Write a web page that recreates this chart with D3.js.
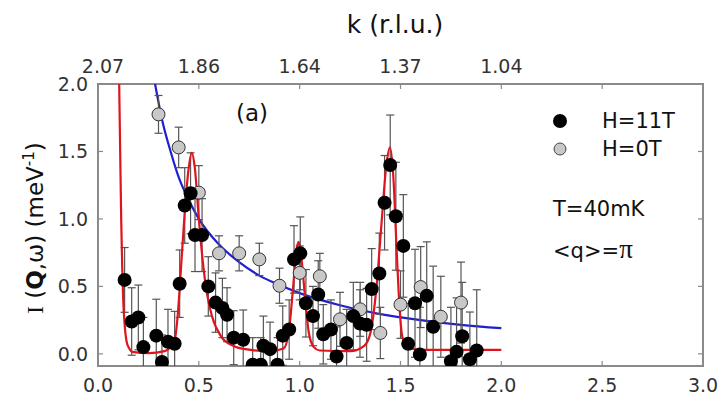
<!DOCTYPE html>
<html>
    <head>
        <title>I(Q,w) vs energy</title>
        <meta charset="UTF-8">
        <script src="https://cdnjs.cloudflare.com/ajax/libs/d3/7.9.0/d3.min.js"></script>
        <style>
            html, body {
                margin: 0;
                padding: 0;
                background: #fff;
                font-family: 'DejaVu Sans', sans-serif;
            }
        </style>
    </head>
    <body>
        <div class="svg-container"></div>
        <script>
            // H = 11T points: x, y, error
            var field11X = [0.132, 0.167, 0.200, 0.225, 0.289, 0.317, 0.347, 0.380, 0.405, 0.430, 0.459, 0.481, 0.516, 0.547, 0.583, 0.617, 0.640, 0.673, 0.720, 0.767, 0.807, 0.820, 0.853, 0.890, 0.916, 0.948, 0.972, 1.003, 1.031, 1.066, 1.092, 1.117, 1.155, 1.183, 1.233, 1.266, 1.299, 1.332, 1.357, 1.395, 1.421, 1.449, 1.477, 1.514, 1.538, 1.572, 1.596, 1.630, 1.662, 1.750, 1.778, 1.806, 1.844, 1.878];
            var field11Y = [0.548, 0.24, 0.27, 0.05, 0.135, -0.06, 0.09, 0.075, 0.52, 1.10, 1.19, 0.88, 0.88, 0.50, 0.38, 0.34, 0.29, 0.12, 0.105, -0.08, -0.08, 0.06, 0.035, -0.08, 0.135, 0.18, 0.70, 0.745, 0.375, 0.28, 0.44, 0.145, 0.18, -0.02, 0.08, 0.28, 0.225, 0.215, 0.48, 0.595, 1.12, 1.40, 1.02, 0.80, 0.074, 0.375, -0.005, 0.43, 0.20, -0.055, 0.015, 0.13, -0.04, 0.025];
            var field11Err = [0.24, 0.25, 0.24, 0.22, 0.27, 0.2, 0.24, 0.24, 0.25, 0.28, 0.3, 0.27, 0.27, 0.22, 0.22, 0.22, 0.2, 0.2, 0.22, 0.2, 0.2, 0.22, 0.2, 0.2, 0.22, 0.22, 0.25, 0.27, 0.25, 0.22, 0.25, 0.22, 0.22, 0.22, 0.25, 0.25, 0.25, 0.27, 0.3, 0.3, 0.35, 0.37, 0.4, 0.38, 0.3, 0.4, 0.35, 0.4, 0.45, 0.4, 0.4, 0.4, 0.35, 0.45];

            // H = 0T points
            var field0X = [0.3, 0.4, 0.5, 0.6, 0.7, 0.8, 0.9, 1.0, 1.1, 1.2, 1.3, 1.4, 1.5, 1.6, 1.7, 1.8];
            var field0Y = [1.775, 1.53, 1.195, 0.745, 0.745, 0.70, 0.505, 0.60, 0.575, 0.256, 0.33, 0.155, 0.365, 0.495, 0.275, 0.38];
            var field0Err = [0.14, 0.15, 0.2, 0.13, 0.13, 0.12, 0.13, 0.2, 0.17, 0.2, 0.2, 0.19, 0.25, 0.3, 0.3, 0.3];

            // fitted curves
            var redX = [0.105, 0.110, 0.115, 0.120, 0.125, 0.132, 0.142, 0.155, 0.17, 0.25, 0.33, 0.36, 0.38, 0.395, 0.41, 0.43, 0.45, 0.465, 0.48, 0.50, 0.52, 0.54, 0.565, 0.61, 0.67, 0.73, 0.85, 0.92, 0.945, 0.965, 0.985, 0.995, 1.008, 1.025, 1.045, 1.07, 1.1, 1.25, 1.32, 1.35, 1.38, 1.405, 1.43, 1.448, 1.465, 1.48, 1.495, 1.51, 1.54, 1.6, 2.0];
            var redY = [2.0, 1.5, 1.0, 0.65, 0.40, 0.22, 0.09, 0.04, 0.015, 0.005, 0.02, 0.05, 0.10, 0.28, 0.60, 1.05, 1.38, 1.49, 1.38, 1.00, 0.68, 0.45, 0.28, 0.13, 0.06, 0.035, 0.02, 0.04, 0.15, 0.45, 0.78, 0.83, 0.72, 0.45, 0.16, 0.05, 0.025, 0.02, 0.06, 0.15, 0.48, 0.95, 1.40, 1.53, 1.30, 0.80, 0.35, 0.12, 0.045, 0.03, 0.03];
            var blueX = [0.283, 0.32, 0.36, 0.40, 0.45, 0.5, 0.6, 0.7, 0.8, 0.9, 1.0, 1.2, 1.4, 1.6, 1.8, 2.0];
            var blueY = [2.0, 1.72, 1.5, 1.31, 1.14, 1.0, 0.81, 0.68, 0.58, 0.51, 0.45, 0.36, 0.295, 0.25, 0.215, 0.19];

            var bottomTicks = [0, 0.5, 1.0, 1.5, 2.0, 2.5, 3.0];
            var leftTicks = [0, 0.5, 1.0, 1.5, 2.0];
            var topTickPos = [0, 0.5, 1.0, 1.5, 2.0];
            var topTickLabels = ['2.07', '1.86', '1.64', '1.37', '1.04'];

            function draw(){
                let w = 720;
                let h = 402;
                let left = 98, right = 703, top = 84, bottom = 366;

                let svg = d3.select('.svg-container').append('svg')
                        .attr('width', w)
                        .attr('height', h);

                let x = d3.scaleLinear().domain([0, 3]).range([left, right]);
                let y = d3.scaleLinear().domain([-0.09, 2.0]).range([bottom, top]);

                svg.append('defs').append('clipPath')
                        .attr('id', 'plot-clip')
                        .append('rect')
                        .attr('x', left).attr('y', top)
                        .attr('width', right - left).attr('height', bottom - top);

                let frameColor = '#8a8a8a';
                let tickLen = 5;

                // ticks, inward
                let ticks = svg.append('g').attr('stroke', frameColor).attr('stroke-width', 1.2);
                bottomTicks.forEach(function(t){
                    ticks.append('line').attr('x1', x(t)).attr('x2', x(t)).attr('y1', bottom).attr('y2', bottom - tickLen);
                    ticks.append('line').attr('x1', x(t)).attr('x2', x(t)).attr('y1', top).attr('y2', top + tickLen);
                });
                leftTicks.forEach(function(t){
                    ticks.append('line').attr('x1', left).attr('x2', left + tickLen).attr('y1', y(t)).attr('y2', y(t));
                    ticks.append('line').attr('x1', right).attr('x2', right - tickLen).attr('y1', y(t)).attr('y2', y(t));
                });

                svg.append('rect')
                        .attr('x', left).attr('y', top)
                        .attr('width', right - left).attr('height', bottom - top)
                        .attr('fill', 'none')
                        .attr('stroke', frameColor)
                        .attr('stroke-width', 2);

                // tick labels
                let labels = svg.append('g')
                        .attr('fill', '#333')
                        .style('font-size', '19px');
                labels.selectAll('.bt').data(bottomTicks).enter().append('text')
                        .attr('x', d => x(d))
                        .attr('y', 392)
                        .attr('text-anchor', 'middle')
                        .text(d => d.toFixed(1));
                labels.selectAll('.lt').data(leftTicks).enter().append('text')
                        .attr('x', 88)
                        .attr('y', d => y(d) + 7)
                        .attr('text-anchor', 'end')
                        .text(d => d.toFixed(1));
                labels.selectAll('.tt').data(topTickPos).enter().append('text')
                        .attr('x', d => x(d) + (d === 0 ? 5 : 0))
                        .attr('y', 73)
                        .attr('text-anchor', 'middle')
                        .text((d, i) => topTickLabels[i]);

                // axis titles
                svg.append('text')
                        .attr('x', 395).attr('y', 33)
                        .attr('text-anchor', 'middle')
                        .attr('fill', '#111')
                        .style('font-size', '25px')
                        .text('k (r.l.u.)');

                let yt = svg.append('text')
                        .attr('transform', 'translate(43,228) rotate(-90)')
                        .attr('text-anchor', 'middle')
                        .attr('fill', '#111')
                        .style('font-size', '23px');
                yt.append('tspan').style('font-family', "'Liberation Serif', serif").text('I');
                yt.append('tspan').text(' (');
                yt.append('tspan').style('font-weight', 'bold').text('Q');
                yt.append('tspan').text(',ω) (meV');
                yt.append('tspan').attr('dy', -9).style('font-size', '15px').text('-1');
                yt.append('tspan').attr('dy', 9).text(')');

                let plot = svg.append('g').attr('clip-path', 'url(#plot-clip)');

                let line = d3.line()
                        .curve(d3.curveMonotoneX)
                        .x(d => x(d[0]))
                        .y(d => y(d[1]));

                let redData = redX.map((v, i) => [v, redY[i]]);
                let blueData = blueX.map((v, i) => [v, blueY[i]]);

                plot.append('path')
                        .datum(blueData)
                        .attr('fill', 'none')
                        .attr('stroke', '#1f1fd0')
                        .attr('stroke-width', 2.2)
                        .attr('d', line);

                // error bars
                function errorBars(xs, ys, es){
                    let g = plot.append('g').attr('stroke', '#555').attr('stroke-width', 1.2);
                    xs.forEach(function(v, i){
                        let px = x(v);
                        let y1 = y(ys[i] - es[i]);
                        let y2 = y(ys[i] + es[i]);
                        g.append('line').attr('x1', px).attr('x2', px).attr('y1', y1).attr('y2', y2);
                        g.append('line').attr('x1', px - 4).attr('x2', px + 4).attr('y1', y1).attr('y2', y1);
                        g.append('line').attr('x1', px - 4).attr('x2', px + 4).attr('y1', y2).attr('y2', y2);
                    });
                }
                errorBars(field0X, field0Y, field0Err);
                errorBars(field11X, field11Y, field11Err);

                plot.append('path')
                        .datum(redData)
                        .attr('fill', 'none')
                        .attr('stroke', '#e0141c')
                        .attr('stroke-width', 2.2)
                        .attr('stroke-linejoin', 'round')
                        .attr('d', line);

                plot.selectAll('.p0').data(field0X).enter().append('circle')
                        .attr('cx', d => x(d))
                        .attr('cy', (d, i) => y(field0Y[i]))
                        .attr('r', 6.5)
                        .attr('fill', '#c8c8c8')
                        .attr('stroke', '#333')
                        .attr('stroke-width', 1);

                plot.selectAll('.p11').data(field11X).enter().append('circle')
                        .attr('cx', d => x(d))
                        .attr('cy', (d, i) => y(field11Y[i]))
                        .attr('r', 7)
                        .attr('fill', '#000');

                // annotations
                svg.append('text')
                        .attr('x', 252).attr('y', 121)
                        .attr('text-anchor', 'middle')
                        .attr('fill', '#111')
                        .style('font-size', '23px')
                        .text('(a)');

                svg.append('circle').attr('cx', 560).attr('cy', 121).attr('r', 7).attr('fill', '#000');
                svg.append('circle').attr('cx', 560).attr('cy', 149).attr('r', 6)
                        .attr('fill', '#c8c8c8').attr('stroke', '#444').attr('stroke-width', 1);

                let notes = svg.append('g').attr('fill', '#111').style('font-size', '21px');
                notes.append('text').attr('x', 602).attr('y', 128).text('H=11T');
                notes.append('text').attr('x', 602).attr('y', 156).text('H=0T');
                notes.append('text').attr('x', 553).attr('y', 216).text('T=40mK');
                let q = notes.append('text').attr('x', 553).attr('y', 258);
                q.append('tspan').text('<q>=');
                q.append('tspan').style('font-family', "'Liberation Serif', serif").style('font-size', '27px').text('π');
            }
            draw();
        </script>
    </body>
</html>
